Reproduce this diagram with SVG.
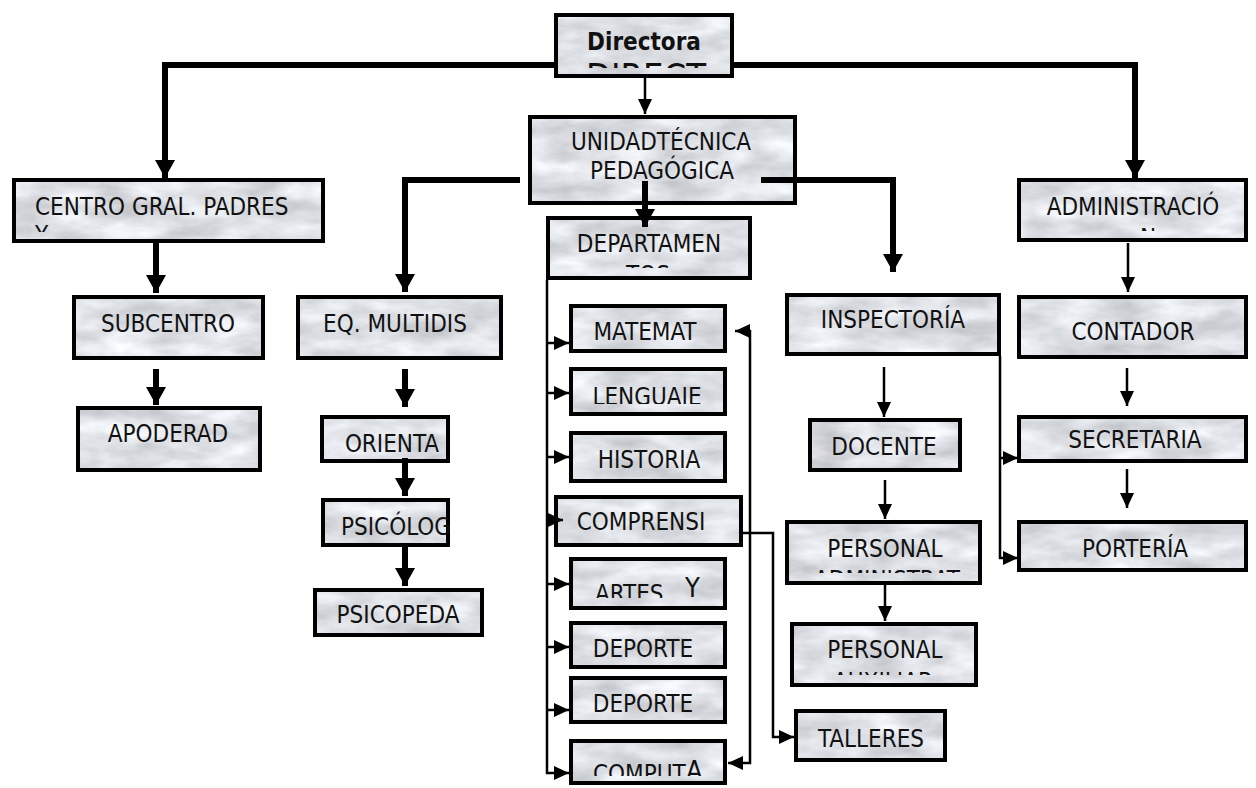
<svg xmlns="http://www.w3.org/2000/svg" width="1256" height="788" viewBox="0 0 1256 788">
<style>
.bg{fill:#dcdde0;filter:url(#marble)}
.bd{fill:none;stroke:#000;stroke-width:4}
.t{font-family:"DejaVu Sans Condensed","DejaVu Sans",sans-serif;font-stretch:condensed;font-size:24px;fill:#111;text-anchor:middle}
.ts{text-anchor:start}
.b{font-weight:bold}
.thick{fill:none;stroke:#000;stroke-width:6;marker-end:url(#ahT)}
.thin{fill:none;stroke:#000;stroke-width:2.5;marker-end:url(#ah)}
</style>
<defs>
<filter id="marble" x="0" y="0" width="100%" height="100%" color-interpolation-filters="sRGB">
<feTurbulence type="fractalNoise" baseFrequency="0.02 0.05" numOctaves="4" seed="11" result="t"/>
<feColorMatrix in="t" type="matrix" values="0.3 0 0 0 0.72 0.3 0 0 0 0.73 0.3 0 0 0 0.75 0 0 0 0 1" result="g"/>
<feComposite in="g" in2="SourceGraphic" operator="in"/>
</filter>
<marker id="ah" markerUnits="userSpaceOnUse" viewBox="0 0 15 14" refX="15" refY="7" markerWidth="15" markerHeight="14" orient="auto-start-reverse"><path d="M0,0 L15,7 L0,14 z" fill="#000"/></marker>
<marker id="ahT" markerUnits="userSpaceOnUse" viewBox="0 0 18 20" refX="18" refY="10" markerWidth="18" markerHeight="20" orient="auto"><path d="M0,0 L18,10 L0,20 z" fill="#000"/></marker>
<clipPath id="cDir"><rect x="554" y="55" width="180" height="13"/></clipPath>
<clipPath id="cCen"><rect x="12" y="215" width="313" height="17"/></clipPath>
<clipPath id="cDep"><rect x="546" y="255" width="206" height="13"/></clipPath>
<clipPath id="cAdm"><rect x="1017" y="218" width="231" height="13"/></clipPath>
<clipPath id="cP1"><rect x="785" y="560" width="197" height="13"/></clipPath>
<clipPath id="cP2"><rect x="790" y="660" width="188" height="15"/></clipPath>
<clipPath id="cLen"><rect x="569" y="367" width="158" height="37"/></clipPath>
<clipPath id="cArt"><rect x="569" y="557" width="158" height="41"/></clipPath>
<clipPath id="cCom"><rect x="569" y="739" width="158" height="37"/></clipPath>
</defs>
<rect width="1256" height="788" fill="#fff"/>

<g id="n-directora"><rect class="bg" x="556" y="15" width="176" height="61"/><rect class="bd" x="556" y="15" width="176" height="61"/><text class="t b" x="644" y="50">Directora</text><text class="t" x="646" y="89" style="font-size:36px" clip-path="url(#cDir)">DIRECT</text></g>
<g id="n-unidad"><rect class="bg" x="530" y="117" width="265" height="86"/><rect class="bd" x="530" y="117" width="265" height="86"/><text class="t" x="661" y="150">UNIDADTÉCNICA</text><text class="t" x="662" y="179">PEDAGÓGICA</text></g>
<g id="n-centro"><rect class="bg" x="14" y="180" width="309" height="61"/><rect class="bd" x="14" y="180" width="309" height="61"/><text class="t ts" x="35" y="215">CENTRO GRAL. PADRES</text><text class="t ts" x="35" y="243" clip-path="url(#cCen)">Y</text></g>
<g id="n-subcentro"><rect class="bg" x="74" y="297" width="189" height="61"/><rect class="bd" x="74" y="297" width="189" height="61"/><text class="t" x="168" y="332">SUBCENTRO</text></g>
<g id="n-apoderad"><rect class="bg" x="78" y="408" width="182" height="62"/><rect class="bd" x="78" y="408" width="182" height="62"/><text class="t" x="168" y="442">APODERAD</text></g>
<g id="n-eq"><rect class="bg" x="298" y="297" width="203" height="61"/><rect class="bd" x="298" y="297" width="203" height="61"/><text class="t" x="395" y="332">EQ. MULTIDIS</text></g>
<g id="n-orienta"><rect class="bg" x="322" y="417" width="126" height="44"/><rect class="bd" x="322" y="417" width="126" height="44"/><text class="t" x="392" y="452">ORIENTA</text></g>
<g id="n-psicolog"><rect class="bg" x="323" y="500" width="125" height="45"/><rect class="bd" x="323" y="500" width="125" height="45"/><text class="t" x="396" y="535">PSICÓLOG</text></g>
<g id="n-psicopeda"><rect class="bg" x="315" y="590" width="167" height="45"/><rect class="bd" x="315" y="590" width="167" height="45"/><text class="t" x="398" y="623">PSICOPEDA</text></g>
<g id="n-departamen"><rect class="bg" x="548" y="218" width="202" height="60"/><rect class="bd" x="548" y="218" width="202" height="60"/><text class="t" x="649" y="252">DEPARTAMEN</text><text class="t" x="648" y="283" clip-path="url(#cDep)">TOS</text></g>
<g id="n-matemat"><rect class="bg" x="571" y="306" width="154" height="45"/><rect class="bd" x="571" y="306" width="154" height="45"/><text class="t" x="645" y="340">MATEMAT</text></g>
<g id="n-lenguaje"><rect class="bg" x="571" y="369" width="154" height="45"/><rect class="bd" x="571" y="369" width="154" height="45"/><text class="t" x="647" y="405" clip-path="url(#cLen)">LENGUAJE</text></g>
<g id="n-historia"><rect class="bg" x="571" y="433" width="154" height="48"/><rect class="bd" x="571" y="433" width="154" height="48"/><text class="t" x="649" y="468">HISTORIA</text></g>
<g id="n-comprensi"><rect class="bg" x="556" y="497" width="185" height="48"/><rect class="bd" x="556" y="497" width="185" height="48"/><text class="t" x="641" y="530">COMPRENSI</text></g>
<g id="n-artes"><rect class="bg" x="571" y="559" width="154" height="49"/><rect class="bd" x="571" y="559" width="154" height="49"/><text class="t ts" x="595" y="602" clip-path="url(#cArt)">ARTES</text><text class="t ts" x="685" y="597" style="font-size:27px">Y</text></g>
<g id="n-deporte1"><rect class="bg" x="571" y="623" width="154" height="44"/><rect class="bd" x="571" y="623" width="154" height="44"/><text class="t" x="643" y="657">DEPORTE</text></g>
<g id="n-deporte2"><rect class="bg" x="571" y="678" width="154" height="44"/><rect class="bd" x="571" y="678" width="154" height="44"/><text class="t" x="643" y="712">DEPORTE</text></g>
<g id="n-computa"><rect class="bg" x="571" y="741" width="154" height="42"/><rect class="bd" x="571" y="741" width="154" height="42"/><text class="t ts" x="593" y="782" clip-path="url(#cCom)">COMPUT</text><text class="t ts" x="686" y="780" style="font-size:27px" clip-path="url(#cCom)">A</text></g>
<g id="n-inspectoria"><rect class="bg" x="787" y="295" width="212" height="59"/><rect class="bd" x="787" y="295" width="212" height="59"/><text class="t" x="893" y="328">INSPECTORÍA</text></g>
<g id="n-docente"><rect class="bg" x="810" y="420" width="150" height="50"/><rect class="bd" x="810" y="420" width="150" height="50"/><text class="t" x="884" y="455">DOCENTE</text></g>
<g id="n-personal1"><rect class="bg" x="787" y="522" width="193" height="61"/><rect class="bd" x="787" y="522" width="193" height="61"/><text class="t" x="885" y="557">PERSONAL</text><text class="t" x="887" y="588" clip-path="url(#cP1)">ADMINISTRAT</text></g>
<g id="n-personal2"><rect class="bg" x="792" y="624" width="184" height="61"/><rect class="bd" x="792" y="624" width="184" height="61"/><text class="t" x="885" y="658">PERSONAL</text><text class="t" x="883" y="690" clip-path="url(#cP2)">AUXILIAR</text></g>
<g id="n-talleres"><rect class="bg" x="796" y="711" width="149" height="49"/><rect class="bd" x="796" y="711" width="149" height="49"/><text class="t" x="871" y="747">TALLERES</text></g>
<g id="n-admin"><rect class="bg" x="1019" y="180" width="227" height="60"/><rect class="bd" x="1019" y="180" width="227" height="60"/><text class="t" x="1133" y="215">ADMINISTRACIÓ</text><text class="t" x="1148" y="246" clip-path="url(#cAdm)">N</text></g>
<g id="n-contador"><rect class="bg" x="1019" y="297" width="227" height="60"/><rect class="bd" x="1019" y="297" width="227" height="60"/><text class="t" x="1133" y="340">CONTADOR</text></g>
<g id="n-secretaria"><rect class="bg" x="1019" y="417" width="227" height="44"/><rect class="bd" x="1019" y="417" width="227" height="44"/><text class="t" x="1135" y="448">SECRETARIA</text></g>
<g id="n-porteria"><rect class="bg" x="1019" y="522" width="227" height="48"/><rect class="bd" x="1019" y="522" width="227" height="48"/><text class="t" x="1135" y="557">PORTERÍA</text></g>

<g id="connectors">
<path class="thick" d="M554,65 H165 V178"/>
<path class="thick" d="M734,65 H1135 V178"/>
<path class="thick" d="M520,180 H405 V292"/>
<path class="thick" d="M761,180 H893 V272"/>
<path class="thick" d="M645,181 V227"/>
<path class="thick" d="M156,243 V293"/>
<path class="thick" d="M156,369 V405"/>
<path class="thick" d="M405,369 V407"/>
<path class="thick" d="M405,458 V496"/>
<path class="thick" d="M405,547 V586"/>
<path class="thin" d="M645,78 V114"/>
<path class="thin" d="M547,280 V773 H569"/>
<path class="thin" d="M547,343 H569"/>
<path class="thin" d="M547,393 H569"/>
<path class="thin" d="M547,457 H569"/>
<path class="thin" d="M547,520 H563"/>
<path class="thin" d="M547,584 H569"/>
<path class="thin" d="M547,647 H569"/>
<path class="thin" d="M547,710 H569"/>
<path class="thin" d="M735,331 H750 V763 H728" style="marker-start:url(#ah)"/>
<path class="thin" d="M743,533 H773 V737 H794"/>
<path class="thin" d="M884,367 V417"/>
<path class="thin" d="M885,480 V519"/>
<path class="thin" d="M885,585 V621"/>
<path class="thin" d="M1000,356 V558 H1018"/>
<path class="thin" d="M1000,458 H1018"/>
<path class="thin" d="M1128,243 V292"/>
<path class="thin" d="M1127,368 V406"/>
<path class="thin" d="M1127,469 V508"/>
</g>
</svg>
